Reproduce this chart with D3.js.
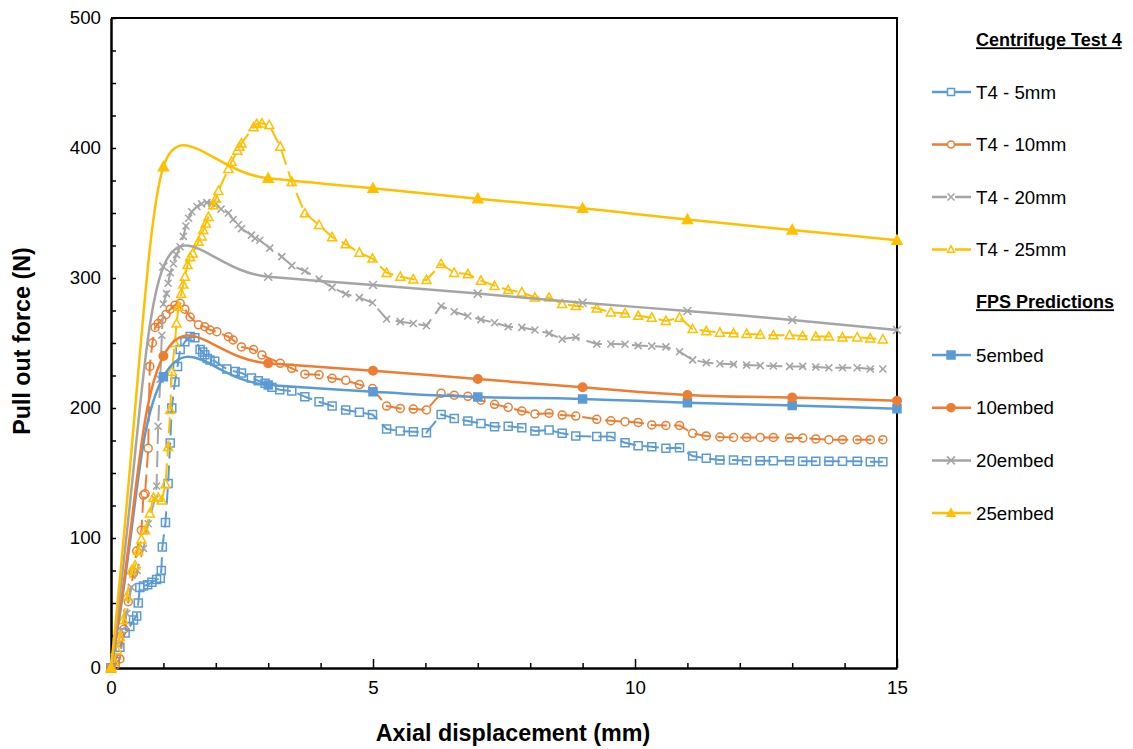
<!DOCTYPE html>
<html>
<head>
<meta charset="utf-8">
<script src="https://cdn.jsdelivr.net/npm/d3@7"></script>
<style>
  body { margin: 0; background: #fff; }
  text { font-family: Arial, "Liberation Sans", sans-serif; fill: #000; }
</style>
</head>
<body>
<svg id="chart" width="1133" height="749"></svg>
<script>
'use strict';

// Centrifuge Test 4, early part: [axial displacement (mm), pull out force (N)]
var t4_5mm_early = [[0,0],[0.08,5],[0.17,16],[0.27,27],[0.36,32],[0.43,37],[0.49,40],[0.52,50],[0.55,62],[0.62,63],[0.7,64],[0.78,66],[0.87,68],[0.94,69],[0.96,75],[0.98,93],[1.04,112],[1.09,142],[1.13,173],[1.16,200],[1.22,220],[1.27,232],[1.32,245],[1.41,251],[1.51,255],[1.6,254],[1.7,245],[1.75,243],[1.79,241],[1.84,238],[1.89,237],[1.98,236],[2.21,230],[2.37,228],[2.49,227],[2.68,223],[2.81,221],[2.94,219],[3.07,216],[3.22,214],[3.45,213]];
var t4_10mm_early = [[0,0],[0.08,2],[0.17,7],[0.25,30],[0.33,51],[0.43,73],[0.49,90],[0.58,106],[0.62,133],[0.65,134],[0.71,169],[0.74,232],[0.79,250],[0.84,262],[0.9,265],[0.97,268],[1.05,272],[1.13,276],[1.22,279],[1.32,280.5],[1.41,276],[1.51,270],[1.67,264],[1.79,262.5],[1.89,260],[2.02,258.7],[2.24,254.8],[2.33,252.3],[2.49,247],[2.72,245],[2.88,240.8],[3.23,234.4],[3.45,230.5]];
var t4_20mm_early = [[0,0],[0.06,8],[0.13,18],[0.2,29],[0.3,42],[0.39,62],[0.5,75],[0.62,92],[0.71,111],[0.84,130],[0.87,140],[0.9,186],[0.94,222],[0.97,256],[1.0,280],[1.06,288],[1.09,296],[1.13,304],[1.19,311],[1.25,318],[1.32,324],[1.38,332],[1.43,340],[1.48,346],[1.54,351],[1.64,355],[1.73,357],[1.83,358],[1.92,357.5],[2.0,357],[2.1,353],[2.24,350],[2.33,345],[2.43,341],[2.49,338],[2.68,333],[2.75,330.5],[2.84,329],[3.03,323],[3.26,316.4],[3.45,309.5]];
var t4_25mm_early = [[0,0],[0.06,5],[0.11,14],[0.17,24],[0.23,37],[0.3,55],[0.39,75],[0.46,79],[0.52,90],[0.58,99],[0.65,106],[0.74,119],[0.81,131],[0.9,131],[0.97,129],[1.04,141.5],[1.09,170],[1.13,198.5],[1.16,228],[1.22,250],[1.25,265],[1.29,278],[1.34,288],[1.38,295],[1.41,301],[1.46,310],[1.51,316],[1.56,319],[1.67,328],[1.73,332],[1.76,337],[1.81,342],[1.86,347],[1.95,356],[2.0,361],[2.05,367],[2.24,384],[2.3,389.5],[2.41,398],[2.45,401],[2.49,403.6],[2.72,416],[2.78,418.5],[2.88,419],[3.02,417.7],[3.23,401],[3.45,374]];

// Centrifuge Test 4, later part: shared displacement readings (mm) and forces (N)
var lateX = [3.70,3.97,4.22,4.48,4.74,4.99,5.26,5.52,5.77,6.02,6.30,6.55,6.81,7.06,7.32,7.58,7.84,8.09,8.36,8.61,8.87,9.27,9.54,9.81,10.06,10.32,10.59,10.85,11.10,11.36,11.62,11.88,12.13,12.39,12.64,12.95,13.20,13.45,13.70,13.96,14.24,14.49,14.73];
var t4_5mm_late = [208.7,204.8,201.5,198.5,196.7,195,183.8,182.3,181.8,181,195,192,190,188,185.6,186,184.9,182.3,183,180.5,178.5,178,178,173.3,171,170.2,169,169.5,163,161.3,160,160,159.5,159.5,159.5,159.5,159,159,159,159,159,158.7,158.7];
var t4_10mm_late = [226,225.5,222.8,221.3,218,215,201.5,199.7,199.2,198.5,211.3,209.8,209,206,202.8,200.5,197.7,195.4,196,194.6,193.8,191.3,190.2,189.5,188.9,187,186.6,186.6,180.5,178.5,177.7,177.4,177.4,177.4,177.4,176.9,176.9,176.2,175.6,175.6,175.6,175.6,175.6];
var t4_20mm_late = [305.4,299.2,292.8,287.7,284.9,281,268.5,266.4,265,263.3,278.5,274,270.8,268,265.6,262.5,262,260,257.4,253,254.4,249.2,249.2,249,248,247.6,247,243.3,237,234.9,234,233.6,233,232.6,232.3,232,232,231.5,231,231,231,230,230];
var t4_25mm_late = [349.8,340.8,331.5,326,319.5,315,304,301,299,298.5,310.8,304,303,298,294,290.8,289,285,285,280,278.5,276.7,273.6,272.8,271,269.5,267,269.5,260.8,259.2,258,257.5,257,256.5,256,256,255.4,255,255,254.4,254.4,253.6,252.8];

// FPS predictions
var fpsX = [0,1,3,5,7,9,11,13,15];
var fps5 = [0,224,217.7,212.5,208.5,207,204,202,199.5];
var fps10 = [0,240,234.4,228.7,222.3,216,210,208,205.6];
var fps20 = [0,308.7,301,294.6,288,281,274.6,267.7,260];
var fps25 = [0,385.6,376.7,369,361,353.6,345,337,329];

var testNames = ['T4 - 5mm', 'T4 - 10mm', 'T4 - 20mm', 'T4 - 25mm'];
var fpsNames = ['5embed', '10embed', '20embed', '25embed'];
var colors = ['#5B9BD5', '#ED7D31', '#A5A5A5', '#FFC000'];
var markers = ['square', 'circle', 'cross', 'triangle'];

var xTicks = [0,1,2,3,4,5,6,7,8,9,10,11,12,13,14,15];
var yTicks = [0,25,50,75,100,125,150,175,200,225,250,275,300,325,350,375,400,425,450,475,500];

var svg = d3.select('#chart');
var x = d3.scaleLinear().domain([0, 15]).range([111, 897]);
var y = d3.scaleLinear().domain([0, 500]).range([668, 18]);

function join(early, late) {
  return early.concat(late.map(function(v, i) { return [lateX[i], v]; }));
}
var testData = [
  join(t4_5mm_early, t4_5mm_late),
  join(t4_10mm_early, t4_10mm_late),
  join(t4_20mm_early, t4_20mm_late),
  join(t4_25mm_early, t4_25mm_late)
];
var fpsData = [fps5, fps10, fps20, fps25].map(function(s) {
  return s.map(function(v, i) { return [fpsX[i], v]; });
});

// spreadsheet-like smoothed line: bezier handles along the neighbour chord,
// their length tied to the shorter adjacent segment
function smoothPath(pts) {
  var c = 0.52;
  function dist(a, b) { return Math.hypot(b[0] - a[0], b[1] - a[1]); }
  function unit(a, b) { var d = dist(a, b) || 1; return [(b[0] - a[0]) / d, (b[1] - a[1]) / d]; }
  var n = pts.length, p = 'M' + pts[0][0] + ',' + pts[0][1];
  for (var i = 0; i < n - 1; i++) {
    var a = pts[i], b = pts[i + 1];
    var dseg = dist(a, b);
    var ua = unit(i > 0 ? pts[i - 1] : a, b);
    var ub = unit(a, i + 2 < n ? pts[i + 2] : b);
    var la = c * (i > 0 ? Math.min(dseg, dist(pts[i - 1], a)) : dseg);
    var lb = c * (i + 2 < n ? Math.min(dseg, dist(b, pts[i + 2])) : dseg);
    if (i === 0 && n > 2) lb = c * Math.min(dseg, dist(b, pts[2]));
    p += 'C' + (a[0] + ua[0] * la) + ',' + (a[1] + ua[1] * la) + ' ' +
      (b[0] - ub[0] * lb) + ',' + (b[1] - ub[1] * lb) + ' ' + b[0] + ',' + b[1];
  }
  return p;
}

// marker path centred on 0,0
function markerPath(type, s) {
  var h = s / 2;
  if (type === 'square') return 'M' + -h + ',' + -h + 'H' + h + 'V' + h + 'H' + -h + 'Z';
  if (type === 'circle') return 'M' + h + ',0A' + h + ',' + h + ' 0 1,1 ' + -h + ',0A' + h + ',' + h + ' 0 1,1 ' + h + ',0Z';
  if (type === 'triangle') return 'M0,' + (-h * 1.05) + 'L' + h + ',' + (h * 0.8) + 'L' + -h + ',' + (h * 0.8) + 'Z';
  return 'M' + -h + ',' + -h + 'L' + h + ',' + h + 'M' + h + ',' + -h + 'L' + -h + ',' + h;
}

function drawMarker(g, type, color, open, size) {
  var filled = !open && type !== 'cross';
  return g.append('path')
    .attr('d', markerPath(type, size))
    .attr('fill', filled ? color : 'none')
    .attr('stroke', color)
    .attr('stroke-width', type === 'cross' ? 1.6 : 1.5);
}

var testSize = { square: 8, circle: 8, cross: 7, triangle: 9 };
var fpsSize = { square: 8, circle: 8.5, cross: 8, triangle: 10 };

// axes
var yAxis = d3.axisLeft(y).tickValues(yTicks).tickSizeInner(-5).tickSizeOuter(0).tickPadding(10)
  .tickFormat(function(d) { return d % 100 === 0 ? d : ''; });
var xAxis = d3.axisBottom(x).tickValues(xTicks).tickSizeInner(-5).tickSizeOuter(0).tickPadding(13)
  .tickFormat(function(d) { return d % 5 === 0 ? d : ''; });

var gy = svg.append('g').attr('transform', 'translate(111,0)').call(yAxis);
var gx = svg.append('g').attr('transform', 'translate(0,668)').call(xAxis);
[gx, gy].forEach(function(g) {
  g.select('.domain').attr('stroke', '#000').attr('stroke-width', 2.5);
  g.selectAll('.tick line').attr('stroke', '#000').attr('stroke-width', 1.5);
  g.selectAll('.tick text').attr('font-size', '18.7px').attr('fill', '#000')
    .style('font-family', 'Arial, "Liberation Sans", sans-serif');
});
gx.selectAll('.tick line').filter(function(d) { return d % 5 === 0; }).attr('y2', -9);

// top and right border
svg.append('path')
  .attr('d', 'M111,18H897V668')
  .attr('fill', 'none').attr('stroke', '#000').attr('stroke-width', 2);

// axis titles
svg.append('text').attr('x', 513).attr('y', 741).attr('text-anchor', 'middle')
  .attr('font-size', '23.3px').attr('font-weight', 'bold').text('Axial displacement (mm)');
svg.append('text').attr('transform', 'translate(30,341) rotate(-90)').attr('text-anchor', 'middle')
  .attr('font-size', '23.3px').attr('font-weight', 'bold').text('Pull out force (N)');

var plotArea = svg.append('g');

// test series: dashed lines with open markers
var testLine = d3.line().x(function(d) { return x(d[0]); }).y(function(d) { return y(d[1]); });
testData.forEach(function(data, i) {
  plotArea.append('path')
    .attr('d', testLine(data))
    .attr('fill', 'none').attr('stroke', colors[i]).attr('stroke-width', 2)
    .attr('stroke-dasharray', '16,7').attr('stroke-linejoin', 'round');
  data.forEach(function(d) {
    var g = plotArea.append('g').attr('transform', 'translate(' + x(d[0]) + ',' + y(d[1]) + ')');
    drawMarker(g, markers[i], colors[i], true, testSize[markers[i]]);
  });
});

// FPS predictions: smoothed solid lines with filled markers
fpsData.forEach(function(data, i) {
  var pts = data.map(function(d) { return [x(d[0]), y(d[1])]; });
  plotArea.append('path')
    .attr('d', smoothPath(pts))
    .attr('fill', 'none').attr('stroke', colors[i]).attr('stroke-width', 2.5);
  data.forEach(function(d) {
    var g = plotArea.append('g').attr('transform', 'translate(' + x(d[0]) + ',' + y(d[1]) + ')');
    drawMarker(g, markers[i], colors[i], false, fpsSize[markers[i]]);
  });
});

// legend
var legend = svg.append('g');
function heading(text, cy) {
  legend.append('text').attr('x', 976).attr('y', cy).attr('dy', '0.35em')
    .attr('font-size', '18px').attr('font-weight', 'bold').attr('text-decoration', 'underline').text(text);
}
function entry(text, cy, i, open) {
  legend.append('line').attr('x1', 932).attr('x2', 971).attr('y1', cy).attr('y2', cy)
    .attr('stroke', colors[i]).attr('stroke-width', 2.5);
  var g = legend.append('g').attr('transform', 'translate(951,' + cy + ')');
  if (open) g.append('rect').attr('x', -4).attr('y', -4).attr('width', 8).attr('height', 8).attr('fill', '#fff');
  drawMarker(g, markers[i], colors[i], open, open ? 7 : 8);
  legend.append('text').attr('x', 976).attr('y', cy).attr('dy', '0.35em')
    .attr('font-size', '18.7px').text(text);
}
heading('Centrifuge Test 4', 40);
testNames.forEach(function(n, i) { entry(n, 92 + i * 52.5, i, true); });
heading('FPS Predictions', 302);
fpsNames.forEach(function(n, i) { entry(n, 355 + i * 52.7, i, false); });
</script>
</body>
</html>
